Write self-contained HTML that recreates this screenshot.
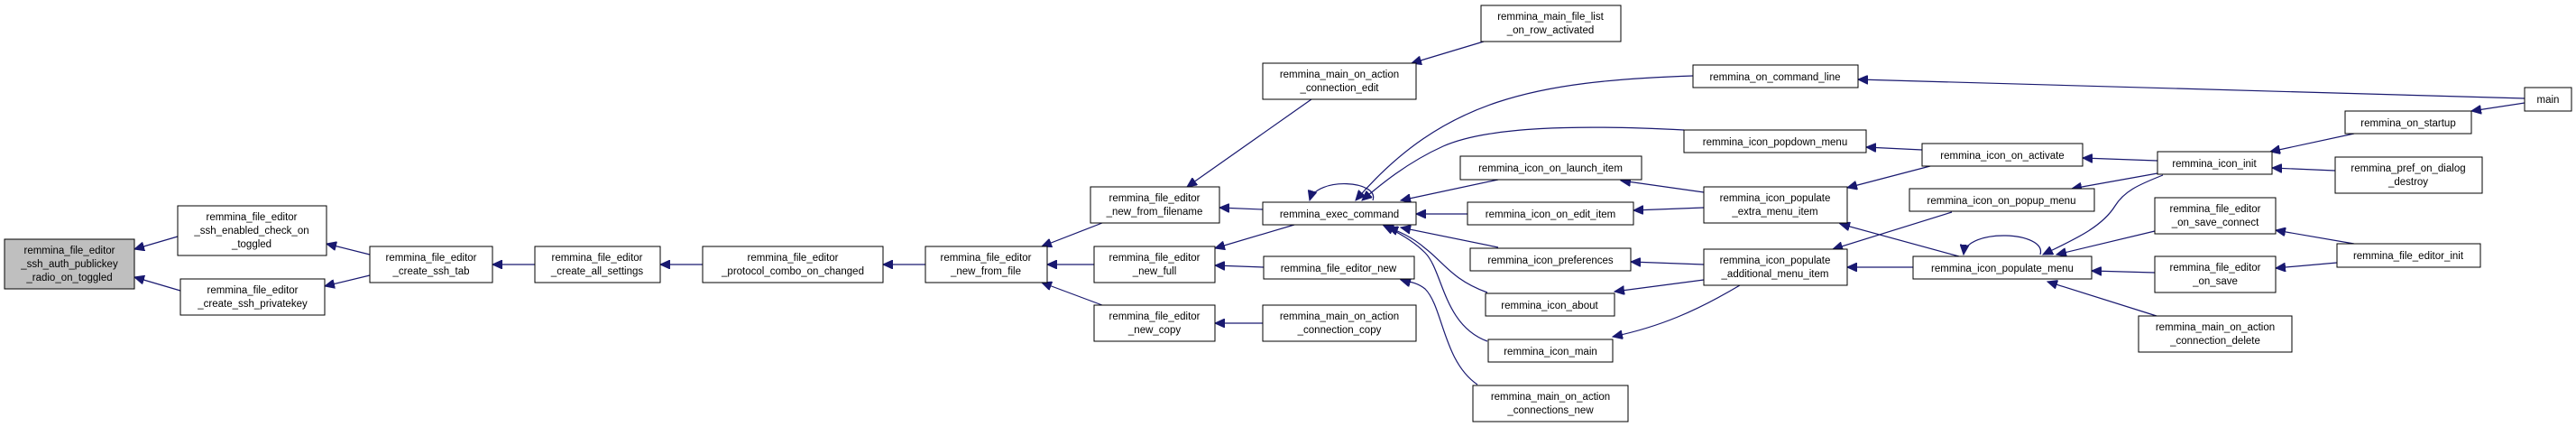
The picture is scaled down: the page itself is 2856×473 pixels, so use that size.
<!DOCTYPE html>
<html><head><meta charset="utf-8"><style>
html,body{margin:0;padding:0;background:#fff;}
svg{display:block;}
text{font-family:"Liberation Sans",sans-serif;font-size:11.5px;fill:#000;text-anchor:middle;}
rect{fill:#fff;stroke:#000;stroke-width:1;}
path{fill:none;stroke:#191970;stroke-width:1.2;}
</style></head><body>
<svg width="2856" height="473" viewBox="0 0 2856 473" xmlns="http://www.w3.org/2000/svg">
<defs>
<marker id="ar" markerUnits="userSpaceOnUse" markerWidth="12" markerHeight="10" refX="11" refY="5" orient="auto">
<polygon points="0,0 11,5 0,10" fill="#191970" stroke="#191970"/>
</marker>
</defs>
<g marker-end="url(#ar)">
<path d="M197,262 L149,276"/>
<path d="M200,322 L149,307"/>
<path d="M410,282 L362,270"/>
<path d="M410,305 L360,317"/>
<path d="M593,293 L546,293"/>
<path d="M779,293 L732,293"/>
<path d="M1026,293 L979,293"/>
<path d="M1222,247 L1155,273"/>
<path d="M1213,293 L1161,293"/>
<path d="M1222,338 L1155,313"/>
<path d="M1454,110 L1316,207"/>
<path d="M1400,232 L1352,230"/>
<path d="M1435,249 L1347,275"/>
<path d="M1401,296 L1347,294"/>
<path d="M1400,358 L1347,358"/>
<path d="M1645,46 L1565,70"/>
<path d="M1522,222 C1530,200 1460,195 1452,222"/>
<path d="M1877,84 C1700,90 1600,110 1503,222"/>
<path d="M1867,144 C1750,138 1650,140 1600,162 C1560,180 1530,205 1510,222"/>
<path d="M1661,199 L1553,222"/>
<path d="M1627,237 L1570,237"/>
<path d="M1661,274 L1553,252"/>
<path d="M1649,324 C1610,310 1600,290 1580,275 C1565,262 1550,256 1539,252"/>
<path d="M1649,378 C1600,360 1600,300 1580,280 C1565,265 1545,255 1534,250"/>
<path d="M1638,426 C1600,400 1600,340 1580,320 C1570,312 1560,312 1553,310"/>
<path d="M1889,213 L1797,200"/>
<path d="M1889,230 L1811,233"/>
<path d="M1889,293 L1808,290"/>
<path d="M1889,310 L1790,323"/>
<path d="M1929,316 C1880,345 1840,362 1788,373"/>
<path d="M2131,166 L2069,163"/>
<path d="M2140,184 L2048,208"/>
<path d="M2164,235 L2032,276"/>
<path d="M2172,284 L2040,248"/>
<path d="M2121,296 L2048,296"/>
<path d="M2262,282 C2270,256 2180,252 2177,282"/>
<path d="M2392,178 L2309,175"/>
<path d="M2392,192 L2297,209"/>
<path d="M2398,194 C2370,205 2355,212 2345,228 C2330,252 2300,265 2265,282"/>
<path d="M2389,256 L2280,282"/>
<path d="M2389,302 L2319,300"/>
<path d="M2391,350 L2270,312"/>
<path d="M2610,148 L2517,168"/>
<path d="M2589,189 L2519,186"/>
<path d="M2799,114 L2740,123"/>
<path d="M2799,109 L2060,88"/>
<path d="M2610,270 L2523,255"/>
<path d="M2591,291 L2523,297"/>
</g>

<rect x="5" y="265" width="144" height="55" style="fill:#bfbfbf"/>
<text x="77" y="281">remmina_file_editor</text><text x="77" y="296">_ssh_auth_publickey</text><text x="77" y="311">_radio_on_toggled</text>
<rect x="197" y="228" width="165" height="55"/>
<text x="279" y="244">remmina_file_editor</text><text x="279" y="259">_ssh_enabled_check_on</text><text x="279" y="274">_toggled</text>
<rect x="200" y="309" width="160" height="40"/>
<text x="280" y="325">remmina_file_editor</text><text x="280" y="340">_create_ssh_privatekey</text>
<rect x="410" y="273" width="136" height="40"/>
<text x="478" y="289">remmina_file_editor</text><text x="478" y="304">_create_ssh_tab</text>
<rect x="593" y="273" width="139" height="40"/>
<text x="662" y="289">remmina_file_editor</text><text x="662" y="304">_create_all_settings</text>
<rect x="779" y="273" width="200" height="40"/>
<text x="879" y="289">remmina_file_editor</text><text x="879" y="304">_protocol_combo_on_changed</text>
<rect x="1026" y="273" width="135" height="40"/>
<text x="1093" y="289">remmina_file_editor</text><text x="1093" y="304">_new_from_file</text>
<rect x="1209" y="207" width="143" height="40"/>
<text x="1280" y="223">remmina_file_editor</text><text x="1280" y="238">_new_from_filename</text>
<rect x="1213" y="273" width="134" height="40"/>
<text x="1280" y="289">remmina_file_editor</text><text x="1280" y="304">_new_full</text>
<rect x="1213" y="338" width="134" height="40"/>
<text x="1280" y="354">remmina_file_editor</text><text x="1280" y="369">_new_copy</text>
<rect x="1642" y="6" width="155" height="40"/>
<text x="1719" y="22">remmina_main_file_list</text><text x="1719" y="37">_on_row_activated</text>
<rect x="1400" y="70" width="170" height="40"/>
<text x="1485" y="86">remmina_main_on_action</text><text x="1485" y="101">_connection_edit</text>
<rect x="1400" y="224" width="170" height="25"/>
<text x="1485" y="241">remmina_exec_command</text>
<rect x="1401" y="284" width="167" height="25"/>
<text x="1484" y="301">remmina_file_editor_new</text>
<rect x="1400" y="338" width="170" height="40"/>
<text x="1485" y="354">remmina_main_on_action</text><text x="1485" y="369">_connection_copy</text>
<rect x="1877" y="72" width="183" height="25"/>
<text x="1968" y="89">remmina_on_command_line</text>
<rect x="1867" y="144" width="202" height="25"/>
<text x="1968" y="161">remmina_icon_popdown_menu</text>
<rect x="1619" y="173" width="201" height="26"/>
<text x="1719" y="190">remmina_icon_on_launch_item</text>
<rect x="1627" y="224" width="184" height="25"/>
<text x="1719" y="241">remmina_icon_on_edit_item</text>
<rect x="1889" y="207" width="159" height="40"/>
<text x="1968" y="223">remmina_icon_populate</text><text x="1968" y="238">_extra_menu_item</text>
<rect x="1630" y="275" width="178" height="25"/>
<text x="1719" y="292">remmina_icon_preferences</text>
<rect x="1889" y="276" width="159" height="40"/>
<text x="1968" y="292">remmina_icon_populate</text><text x="1968" y="307">_additional_menu_item</text>
<rect x="1647" y="325" width="143" height="25"/>
<text x="1718" y="342">remmina_icon_about</text>
<rect x="1650" y="376" width="138" height="25"/>
<text x="1719" y="393">remmina_icon_main</text>
<rect x="1633" y="427" width="172" height="40"/>
<text x="1719" y="443">remmina_main_on_action</text><text x="1719" y="458">_connections_new</text>
<rect x="2799" y="97" width="52" height="26"/>
<text x="2825" y="114">main</text>
<rect x="2600" y="123" width="140" height="25"/>
<text x="2670" y="140">remmina_on_startup</text>
<rect x="2131" y="159" width="178" height="25"/>
<text x="2220" y="176">remmina_icon_on_activate</text>
<rect x="2392" y="168" width="127" height="25"/>
<text x="2455" y="185">remmina_icon_init</text>
<rect x="2589" y="174" width="163" height="40"/>
<text x="2670" y="190">remmina_pref_on_dialog</text><text x="2670" y="205">_destroy</text>
<rect x="2117" y="209" width="205" height="25"/>
<text x="2219" y="226">remmina_icon_on_popup_menu</text>
<rect x="2389" y="219" width="134" height="40"/>
<text x="2456" y="235">remmina_file_editor</text><text x="2456" y="250">_on_save_connect</text>
<rect x="2121" y="284" width="198" height="25"/>
<text x="2220" y="301">remmina_icon_populate_menu</text>
<rect x="2389" y="284" width="134" height="40"/>
<text x="2456" y="300">remmina_file_editor</text><text x="2456" y="315">_on_save</text>
<rect x="2591" y="270" width="159" height="26"/>
<text x="2670" y="287">remmina_file_editor_init</text>
<rect x="2371" y="350" width="170" height="40"/>
<text x="2456" y="366">remmina_main_on_action</text><text x="2456" y="381">_connection_delete</text>
</svg>
</body></html>
